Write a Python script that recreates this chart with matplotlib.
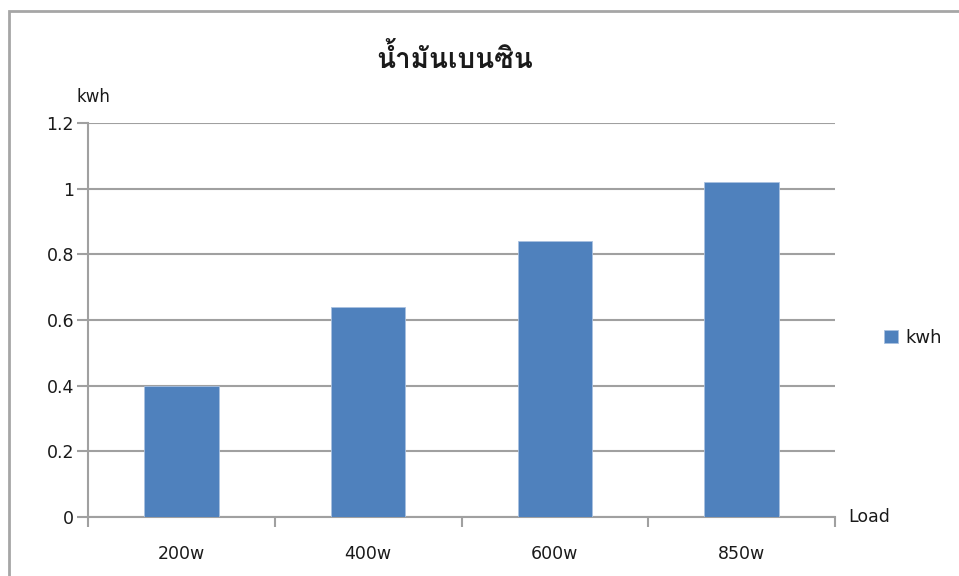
import matplotlib
matplotlib.use("Agg")
import matplotlib.pyplot as plt
from matplotlib import font_manager
from matplotlib.ft2font import FT2Font
from matplotlib.patches import Rectangle

TITLE = "น้ำมันเบนซิน"
loads = ["200w", "400w", "600w", "850w"]
kwh = [0.40, 0.64, 0.84, 1.02]
y_ticks = [0, 0.2, 0.4, 0.6, 0.8, 1, 1.2]
y_tick_labels = ["0", "0.2", "0.4", "0.6", "0.8", "1", "1.2"]

BAR_COLOR = "#4f81bd"
GRID_COLOR = "#a0a0a0"
TEXT_COLOR = "#1a1a1a"


def thai_font():
    """Return the name of an installed font that can draw Thai, if any."""
    seen = set()
    for entry in font_manager.fontManager.ttflist:
        if entry.fname in seen:
            continue
        seen.add(entry.fname)
        try:
            cmap = FT2Font(entry.fname).get_charmap()
        except Exception:
            continue
        if ord("น") in cmap and ord("ำ") in cmap:
            return entry.name
    return None


thai = thai_font()
title_family = [thai, "DejaVu Sans"] if thai else ["DejaVu Sans"]

fig = plt.figure(figsize=(9.59, 5.76), dpi=100)
ax = fig.add_axes([88 / 959, 1 - 517 / 576, (835 - 88) / 959, (517 - 123) / 576])

x = list(range(len(loads)))
ax.bar(x, kwh, width=0.4, color=BAR_COLOR, edgecolor="#a9c1e0", linewidth=0.6,
       zorder=3, label="kwh")

ax.set_xlim(-0.5, len(loads) - 0.5)
ax.set_ylim(0, 1.2)
ax.set_yticks(y_ticks)
ax.set_yticklabels(y_tick_labels)

# category labels sit between the boundary ticks
ax.set_xticks(x)
ax.set_xticklabels(loads)
ax.tick_params(axis="x", which="major", length=0, pad=20)
ax.set_xticks([i - 0.5 for i in range(len(loads) + 1)], minor=True)
ax.tick_params(axis="x", which="minor", length=7, width=1.5, color=GRID_COLOR)
ax.tick_params(axis="y", length=8, width=1.5, color=GRID_COLOR, pad=2)
ax.tick_params(labelsize=12.5, labelcolor=TEXT_COLOR)

ax.grid(axis="y", color=GRID_COLOR, linewidth=1.5, zorder=0)
for side in ("top", "right"):
    ax.spines[side].set_visible(False)
for side in ("left", "bottom"):
    ax.spines[side].set_color(GRID_COLOR)
    ax.spines[side].set_linewidth(1.5)

fig.text(455 / 959, 1 - 58 / 576, TITLE, family=title_family, fontsize=20,
         fontweight="bold", ha="center", va="center", color=TEXT_COLOR)
fig.text(77 / 959, 1 - 97 / 576, "kwh", fontsize=12, ha="left", va="center",
         color=TEXT_COLOR)
fig.text(848 / 959, 1 - 517 / 576, "Load", fontsize=12.5, ha="left", va="center",
         color=TEXT_COLOR)

fig.legend(loc="center left", bbox_to_anchor=(868 / 959, 1 - 338 / 576),
           frameon=False, fontsize=13, handlelength=0.75, handleheight=0.75,
           handletextpad=0.4, labelcolor=TEXT_COLOR)

# chart-area frame, open on the right and bottom edges
fig.patches.append(Rectangle((8.5 / 959, -0.1), 1.2, 1.1 - 10.5 / 576,
                             transform=fig.transFigure, fill=False,
                             edgecolor="#a6a6a6", linewidth=2))

fig.savefig("out.png", dpi=100, facecolor="white")
